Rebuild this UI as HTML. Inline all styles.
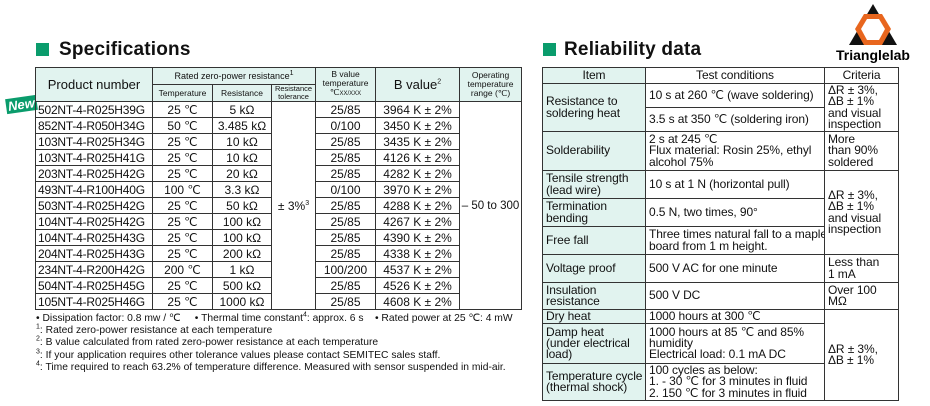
<!DOCTYPE html>
<html><head><meta charset="utf-8"><style>
body{margin:0;width:930px;height:406px;background:#fff;position:relative;overflow:hidden;font-family:"Liberation Sans",sans-serif;color:#111}
.t{position:absolute;border-collapse:collapse;table-layout:fixed}
.t td{border:1px solid #333;padding:0;font-size:12px;line-height:12px;white-space:nowrap;overflow:hidden}
.L td{text-align:center}
.L td.p{text-align:left;padding-left:2px;letter-spacing:-0.2px}
.h{background:#e1f3ef}
.R td{text-align:left;padding-left:3px;line-height:11.3px;vertical-align:middle;letter-spacing:-0.1px}
.R td.i{background:#e1f3ef}
.sq{position:absolute;width:13px;height:13px;background:#0a9c6c}
.ttl{position:absolute;font-size:19px;font-weight:bold;letter-spacing:0.2px}
.fn{position:absolute;left:36px;font-size:10.3px;line-height:12.3px;white-space:nowrap}
sup{font-size:7px;line-height:0}
</style></head><body>
<div class="sq" style="left:36px;top:43px"></div><div class="ttl" style="left:59px;top:39px">Specifications</div>
<div class="sq" style="left:543px;top:43px"></div><div class="ttl" style="left:564px;top:39px">Reliability data</div>
<svg style="position:absolute;left:830px;top:1px" width="90" height="62" viewBox="0 0 90 62">
<polygon points="43,3 67,44 19,44" fill="#111"/>
<polygon points="34,13 52,13 61,28 52,44 34,44 25,28" fill="#e8661e"/>
<polygon points="37,18 49,18 55,28 49,39 37,39 31,28" fill="#fff"/>
<text x="43" y="59" font-family="Liberation Sans" font-weight="bold" font-size="14" text-anchor="middle">Trianglelab</text>
</svg>
<div style="position:absolute;left:6px;top:97px;background:#0a9c6c;color:#fff;font-weight:bold;font-style:italic;font-size:13px;padding:0 2px;transform:rotate(-8deg)">New</div>
<table class="t L" style="left:35px;top:67px;width:486px">
<colgroup><col style="width:117px"><col style="width:60px"><col style="width:59px"><col style="width:44px"><col style="width:60px"><col style="width:84px"><col style="width:62px"></colgroup>
<tr style="height:17px"><td class="h" rowspan="2" style="font-size:13px">Product number</td><td class="h" colspan="3" style="font-size:9px">Rated zero-power resistance<sup>1</sup></td><td class="h" rowspan="2" style="font-size:8.5px;line-height:9px">B value<br>temperature<br>℃<span style="font-size:6px">XX/XXX</span></td><td class="h" rowspan="2" style="font-size:13px">B value<sup>2</sup></td><td class="h" rowspan="2" style="font-size:8.5px;line-height:9px">Operating<br>temperature<br>range (℃)</td></tr>
<tr style="height:16px"><td class="h" style="font-size:8.5px">Temperature</td><td class="h" style="font-size:8.5px">Resistance</td><td class="h" style="font-size:7.5px;line-height:8px">Resistance<br>tolerance</td></tr>
<tr style="height:16px"><td class="p">502NT-4-R025H39G</td><td>25 ℃</td><td>5 kΩ</td><td rowspan="13">± 3%<sup>3</sup></td><td>25/85</td><td>3964 K ± 2%</td><td rowspan="13" style="font-size:11.5px">– 50 to 300</td></tr>
<tr style="height:16px"><td class="p">852NT-4-R050H34G</td><td>50 ℃</td><td>3.485 kΩ</td><td>0/100</td><td>3450 K ± 2%</td></tr>
<tr style="height:16px"><td class="p">103NT-4-R025H34G</td><td>25 ℃</td><td>10 kΩ</td><td>25/85</td><td>3435 K ± 2%</td></tr>
<tr style="height:16px"><td class="p">103NT-4-R025H41G</td><td>25 ℃</td><td>10 kΩ</td><td>25/85</td><td>4126 K ± 2%</td></tr>
<tr style="height:16px"><td class="p">203NT-4-R025H42G</td><td>25 ℃</td><td>20 kΩ</td><td>25/85</td><td>4282 K ± 2%</td></tr>
<tr style="height:16px"><td class="p">493NT-4-R100H40G</td><td>100 ℃</td><td>3.3 kΩ</td><td>0/100</td><td>3970 K ± 2%</td></tr>
<tr style="height:16px"><td class="p">503NT-4-R025H42G</td><td>25 ℃</td><td>50 kΩ</td><td>25/85</td><td>4288 K ± 2%</td></tr>
<tr style="height:16px"><td class="p">104NT-4-R025H42G</td><td>25 ℃</td><td>100 kΩ</td><td>25/85</td><td>4267 K ± 2%</td></tr>
<tr style="height:16px"><td class="p">104NT-4-R025H43G</td><td>25 ℃</td><td>100 kΩ</td><td>25/85</td><td>4390 K ± 2%</td></tr>
<tr style="height:16px"><td class="p">204NT-4-R025H43G</td><td>25 ℃</td><td>200 kΩ</td><td>25/85</td><td>4338 K ± 2%</td></tr>
<tr style="height:16px"><td class="p">234NT-4-R200H42G</td><td>200 ℃</td><td>1 kΩ</td><td>100/200</td><td>4537 K ± 2%</td></tr>
<tr style="height:16px"><td class="p">504NT-4-R025H45G</td><td>25 ℃</td><td>500 kΩ</td><td>25/85</td><td>4526 K ± 2%</td></tr>
<tr style="height:16px"><td class="p">105NT-4-R025H46G</td><td>25 ℃</td><td>1000 kΩ</td><td>25/85</td><td>4608 K ± 2%</td></tr>
</table>
<div class="fn" style="top:313px">• Dissipation factor: 0.8 mw / ℃ &nbsp;&nbsp;&nbsp; • Thermal time constant<sup>4</sup>: approx. 6 s &nbsp;&nbsp; • Rated power at 25 ℃: 4 mW</div>
<div class="fn" style="top:325px"><sup>1</sup>: Rated zero-power resistance at each temperature<br><sup>2</sup>: B value calculated from rated zero-power resistance at each temperature<br><sup>3</sup>: If your application requires other tolerance values please contact SEMITEC sales staff.<br><sup>4</sup>: Time required to reach 63.2% of temperature difference. Measured with sensor suspended in mid-air.</div>
<table class="t R" style="left:542px;top:67px;width:356px">
<colgroup><col style="width:103px"><col style="width:179px"><col style="width:74px"></colgroup>
<tr style="height:16px"><td class="i" style="text-align:center;padding:0">Item</td><td style="text-align:center;padding:0">Test conditions</td><td style="text-align:center;padding:0">Criteria</td></tr>
<tr style="height:24px"><td class="i" rowspan="2">Resistance to<br>soldering heat</td><td>10 s at 260 ℃ (wave soldering)</td><td rowspan="2">ΔR ± 3%,<br>ΔB ± 1%<br>and visual<br>inspection</td></tr>
<tr style="height:24px"><td>3.5 s at 350 ℃ (soldering iron)</td></tr>
<tr style="height:39px"><td class="i">Solderability</td><td>2 s at 245 ℃<br>Flux material: Rosin 25%, ethyl<br>alcohol 75%</td><td>More<br>than 90%<br>soldered</td></tr>
<tr style="height:28px"><td class="i">Tensile strength<br>(lead wire)</td><td>10 s at 1 N (horizontal pull)</td><td rowspan="3">ΔR ± 3%,<br>ΔB ± 1%<br>and visual<br>inspection</td></tr>
<tr style="height:28px"><td class="i">Termination<br>bending</td><td>0.5 N, two times, 90°</td></tr>
<tr style="height:28px"><td class="i">Free fall</td><td>Three times natural fall to a maple<br>board from 1 m height.</td></tr>
<tr style="height:28px"><td class="i">Voltage proof</td><td>500 V AC for one minute</td><td>Less than<br>1 mA</td></tr>
<tr style="height:27px"><td class="i">Insulation<br>resistance</td><td>500 V DC</td><td>Over 100<br>MΩ</td></tr>
<tr style="height:14px"><td class="i">Dry heat</td><td>1000 hours at 300 ℃</td><td rowspan="3">ΔR ± 3%,<br>ΔB ± 1%</td></tr>
<tr style="height:40px"><td class="i">Damp heat<br>(under electrical<br>load)</td><td>1000 hours at 85 ℃ and 85%<br>humidity<br>Electrical load: 0.1 mA DC</td></tr>
<tr style="height:37px"><td class="i">Temperature cycle<br>(thermal shock)</td><td>100 cycles as below:<br>1. - 30 ℃ for 3 minutes in fluid<br>2. 150 ℃ for 3 minutes in fluid</td></tr>
</table>
</body></html>
